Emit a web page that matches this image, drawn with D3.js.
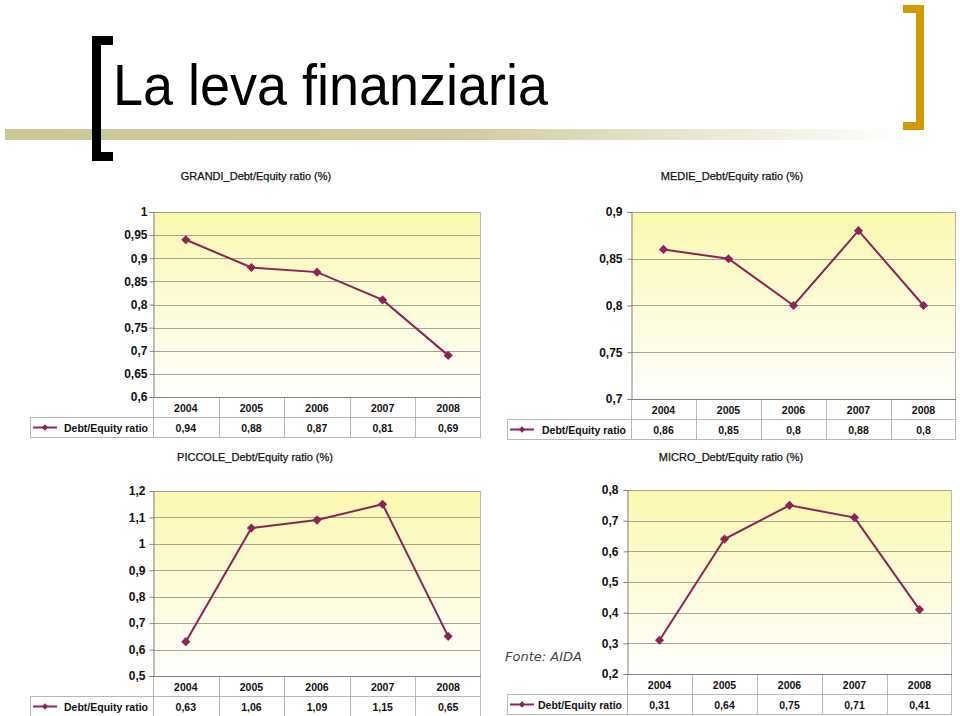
<!DOCTYPE html>
<html>
<head>
<meta charset="utf-8">
<script src="https://cdn.jsdelivr.net/npm/d3@7"></script>
<style>
  body { margin: 0; background: #fff; }
  svg { display: block; }
  text { font-family: "Liberation Sans", Arial, sans-serif; }
</style>
</head>
<body>
<div id="chart"></div>
<script>
// Data
const years = ['2004', '2005', '2006', '2007', '2008'];
const grandiValues = [0.94, 0.88, 0.87, 0.81, 0.69];
const medieValues = [0.86, 0.85, 0.8, 0.88, 0.8];
const piccoleValues = [0.63, 1.06, 1.09, 1.15, 0.65];
const microValues = [0.31, 0.64, 0.75, 0.71, 0.41];

const grandiTicks = [0.6, 0.65, 0.7, 0.75, 0.8, 0.85, 0.9, 0.95, 1];
const medieTicks = [0.7, 0.75, 0.8, 0.85, 0.9];
const piccoleTicks = [0.5, 0.6, 0.7, 0.8, 0.9, 1, 1.1, 1.2];
const microTicks = [0.2, 0.3, 0.4, 0.5, 0.6, 0.7, 0.8];

const seriesName = 'Debt/Equity ratio';
const lineColor = '#8b2558';

const width = 960;
const height = 716;

const svg = d3.select('#chart')
    .append('svg')
    .attr('width', width)
    .attr('height', height);

const defs = svg.append('defs');

// plot background: pale yellow fading to white
const bg = defs.append('linearGradient')
    .attr('id', 'plotBg')
    .attr('x1', 0).attr('y1', 0).attr('x2', 0).attr('y2', 1);
bg.append('stop').attr('offset', '0%').attr('stop-color', '#fbf8b0');
bg.append('stop').attr('offset', '100%').attr('stop-color', '#ffffff');

// header band fading right
const band = defs.append('linearGradient')
    .attr('id', 'bandGrad')
    .attr('x1', 0).attr('y1', 0).attr('x2', 1).attr('y2', 0);
band.append('stop').attr('offset', '0%').attr('stop-color', '#cbc797');
band.append('stop').attr('offset', '50%').attr('stop-color', '#cfcb9e');
band.append('stop').attr('offset', '100%').attr('stop-color', '#ffffff');

// Slide header
svg.append('rect')
    .attr('x', 5).attr('y', 129)
    .attr('width', 900).attr('height', 11)
    .attr('fill', 'url(#bandGrad)');

// left black bracket
svg.append('path')
    .attr('d', 'M113,36 H92 V161 H113 V152 H101 V45 H113 Z')
    .attr('fill', '#000');

// right gold bracket
svg.append('path')
    .attr('d', 'M903,5 H924 V130 H903 V122 H916 V13 H903 Z')
    .attr('fill', '#cf9c06');

svg.append('text')
    .attr('x', 113)
    .attr('y', 105)
    .attr('textLength', 435)
    .attr('lengthAdjust', 'spacingAndGlyphs')
    .style('font-size', '57px')
    .style('fill', '#000')
    .text('La leva finanziaria');

svg.append('text')
    .attr('x', 505)
    .attr('y', 661)
    .style('font-family', '"DejaVu Sans", Verdana, sans-serif')
    .style('font-style', 'italic')
    .style('font-size', '13px')
    .style('fill', '#444')
    .text('Fonte: AIDA');

const fmt = v => String(+v.toFixed(2)).replace('.', ',');

function label(parent, x, y, str, anchor, size, weight) {
    return parent.append('text')
        .attr('x', x)
        .attr('y', y)
        .attr('text-anchor', anchor)
        .style('font-size', size + 'px')
        .style('font-weight', weight)
        .style('fill', '#111')
        .text(str);
}

function drawChart(cfg) {
    const g = svg.append('g');

    const x = d3.scaleBand()
        .domain(years)
        .range([cfg.left, cfg.right]);

    const y = d3.scaleLinear()
        .domain(d3.extent(cfg.ticks))
        .range([cfg.bottom, cfg.top]);

    const cx = i => x(years[i]) + x.bandwidth() / 2;

    // title
    label(g, cfg.titleX, cfg.titleY, cfg.title, 'middle', 11, 'normal')
        .style('stroke', '#111').style('stroke-width', 0.25);

    // plot area
    g.append('rect')
        .attr('x', cfg.left)
        .attr('y', cfg.top)
        .attr('width', cfg.right - cfg.left)
        .attr('height', cfg.bottom - cfg.top)
        .attr('fill', 'url(#plotBg)');

    // gridlines
    g.selectAll('line.grid')
        .data(cfg.ticks.slice(1))
        .enter()
        .append('line')
        .attr('class', 'grid')
        .attr('x1', cfg.left)
        .attr('x2', cfg.right)
        .attr('y1', d => Math.round(y(d)) + 0.5)
        .attr('y2', d => Math.round(y(d)) + 0.5)
        .attr('stroke', '#a5a597')
        .attr('stroke-width', 1);

    // y axis
    const yAxis = g.append('g')
        .attr('transform', `translate(${cfg.left + 0.5},0)`)
        .call(d3.axisLeft(y)
            .tickValues(cfg.ticks)
            .tickSize(4)
            .tickPadding(cfg.pad)
            .tickFormat(fmt));
    yAxis.select('.domain').attr('stroke', '#808080');
    yAxis.selectAll('.tick line').attr('stroke', '#808080');
    yAxis.selectAll('.tick text')
        .style('font-family', '"Liberation Sans", Arial, sans-serif')
        .style('font-size', '12px')
        .style('font-weight', 'bold')
        .style('fill', '#111');

    // data table
    const rowH = cfg.rowH;
    const row1 = cfg.bottom;
    const row2 = cfg.bottom + rowH;
    const row3 = cfg.bottom + 2 * rowH;
    const tableStroke = '#b8b8b8';

    g.append('line')
        .attr('x1', cfg.headLeft).attr('x2', cfg.right)
        .attr('y1', row2 + 0.5).attr('y2', row2 + 0.5)
        .attr('stroke', tableStroke);
    g.append('line')
        .attr('x1', cfg.headLeft).attr('x2', cfg.right)
        .attr('y1', row3 + 0.5).attr('y2', row3 + 0.5)
        .attr('stroke', tableStroke);
    g.append('line')
        .attr('x1', cfg.headLeft + 0.5).attr('x2', cfg.headLeft + 0.5)
        .attr('y1', row2).attr('y2', row3)
        .attr('stroke', tableStroke);

    // column separators
    g.selectAll('line.col')
        .data(years.slice(1).concat(['end']))
        .enter()
        .append('line')
        .attr('class', 'col')
        .attr('x1', d => d === 'end' ? cfg.right - 0.5 : Math.round(x(d)) + 0.5)
        .attr('x2', d => d === 'end' ? cfg.right - 0.5 : Math.round(x(d)) + 0.5)
        .attr('y1', d => d === 'end' ? cfg.top : row1)
        .attr('y2', row3)
        .attr('stroke', tableStroke);

    g.append('line')
        .attr('x1', cfg.left + 0.5).attr('x2', cfg.left + 0.5)
        .attr('y1', row1).attr('y2', row3)
        .attr('stroke', tableStroke);

    // bottom axis line
    g.append('line')
        .attr('x1', cfg.left).attr('x2', cfg.right)
        .attr('y1', row1 + 0.5).attr('y2', row1 + 0.5)
        .attr('stroke', '#808080');

    years.forEach((yr, i) => {
        label(g, cx(i), row1 + rowH / 2 + 4.5, yr, 'middle', 10.5, 'bold');
        label(g, cx(i), row2 + rowH / 2 + 4.5, fmt(cfg.values[i]), 'middle', 10.5, 'bold');
    });

    // legend key in header cell
    const ly = row2 + rowH / 2 + 0.5;
    g.append('line')
        .attr('x1', cfg.headLeft + 3).attr('x2', cfg.headLeft + 27)
        .attr('y1', ly).attr('y2', ly)
        .attr('stroke', lineColor)
        .attr('stroke-width', 2);
    g.append('path')
        .attr('d', d3.symbol().type(d3.symbolSquare).size(20)())
        .attr('transform', `translate(${cfg.headLeft + 15},${ly}) rotate(45)`)
        .attr('fill', lineColor);
    label(g, cfg.left - 5, row2 + rowH / 2 + 4.5, seriesName, 'end', 10.5, 'bold');

    // series line
    const line = d3.line()
        .x((d, i) => cx(i))
        .y(d => y(d));

    g.append('path')
        .datum(cfg.values)
        .attr('d', line)
        .attr('fill', 'none')
        .attr('stroke', lineColor)
        .attr('stroke-width', 2);

    g.selectAll('path.marker')
        .data(cfg.values)
        .enter()
        .append('path')
        .attr('class', 'marker')
        .attr('d', d3.symbol().type(d3.symbolSquare).size(42)())
        .attr('transform', (d, i) => `translate(${cx(i)},${y(d)}) rotate(45)`)
        .attr('fill', lineColor);
}

drawChart({
    title: 'GRANDI_Debt/Equity ratio (%)', titleX: 256, titleY: 180,
    values: grandiValues, ticks: grandiTicks, pad: 2,
    left: 153, right: 481, top: 212, bottom: 397, rowH: 20, headLeft: 30
});

drawChart({
    title: 'MEDIE_Debt/Equity ratio (%)', titleX: 732, titleY: 180,
    values: medieValues, ticks: medieTicks, pad: 5,
    left: 631, right: 956, top: 212, bottom: 399, rowH: 20, headLeft: 507
});

drawChart({
    title: 'PICCOLE_Debt/Equity ratio (%)', titleX: 255, titleY: 461,
    values: piccoleValues, ticks: piccoleTicks, pad: 4,
    left: 153, right: 481, top: 491, bottom: 676, rowH: 20, headLeft: 30
});

drawChart({
    title: 'MICRO_Debt/Equity ratio (%)', titleX: 731, titleY: 461,
    values: microValues, ticks: microTicks, pad: 5,
    left: 627, right: 952, top: 490, bottom: 674, rowH: 20, headLeft: 507
});
</script>
</body>
</html>
